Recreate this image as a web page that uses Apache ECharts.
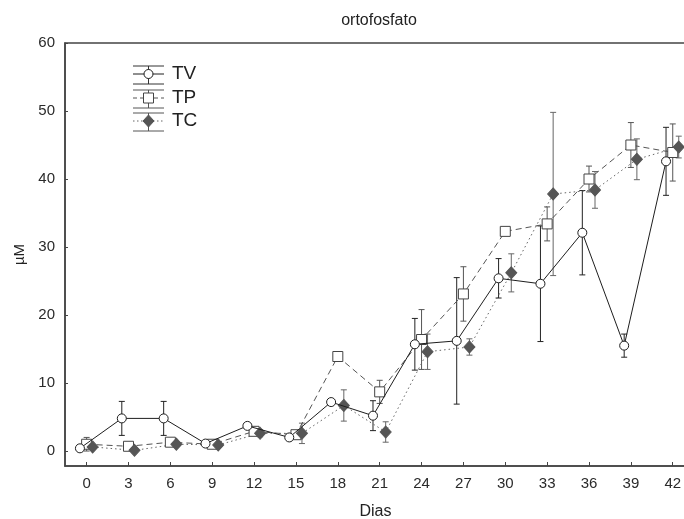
<!DOCTYPE html>
<html>
<head>
<meta charset="utf-8">
<script src="https://cdn.jsdelivr.net/npm/echarts@6/dist/echarts.min.js"></script>
<style>
  html, body { margin: 0; padding: 0; background: #fff; }
  #chart { width: 684px; height: 519px; }
</style>
</head>
<body>
<div id="chart"></div>
<script>
// Sampling days
const days = [0, 3, 6, 9, 12, 15, 18, 21, 24, 27, 30, 33, 36, 39, 42];
const dayTicks = [0, 3, 6, 9, 12, 15, 18, 21, 24, 27, 30, 33, 36, 39, 42];
const yTicks = [0, 10, 20, 30, 40, 50, 60];

// Orthophosphate (µM): mean and error for each treatment
const tvMean = [0.4, 4.8, 4.8, 1.1, 3.7, 2.0, 7.2, 5.2, 15.7, 16.2, 25.4, 24.6, 32.1, 15.5, 42.6];
const tvErr  = [0.4, 2.5, 2.5, 0.3, 0.4, 0.3, 0.3, 2.2, 3.8, 9.3, 2.9, 8.5, 6.2, 1.7, 5.0];

const tpMean = [1.0, 0.7, 1.3, 1.0, 2.9, 2.4, 13.9, 8.7, 16.4, 23.1, 32.3, 33.4, 40.0, 45.0, 43.9];
const tpErr  = [1.0, 0.3, 0.3, 0.3, 0.6, 0.4, 0.6, 1.7, 4.4, 4.0, 0.3, 2.5, 1.9, 3.3, 4.2];

const tcMean = [0.6, 0.1, 1.0, 0.9, 2.6, 2.6, 6.7, 2.8, 14.6, 15.3, 26.2, 37.8, 38.4, 42.9, 44.7];
const tcErr  = [0.3, 0.2, 0.3, 0.3, 0.5, 1.5, 2.3, 1.5, 2.6, 1.2, 2.8, 12.0, 2.7, 3.0, 1.6];

// Small horizontal dodge (in days) so the three treatments do not overlap
const dodge = { TV: -0.48, TP: 0, TC: 0.43 };

const FONT = '"Liberation Sans", Arial, sans-serif';

function points(mean, off) {
  return days.map((d, i) => [d + off, mean[i]]);
}
function bars(mean, err, off) {
  return days.map((d, i) => [d + off, mean[i] - err[i], mean[i] + err[i]]);
}

function errorBarSeries(name, data, color) {
  return {
    name: name + ' err',
    type: 'custom',
    z: 1,
    silent: true,
    data: data,
    encode: { x: 0, y: [1, 2] },
    renderItem: function (params, api) {
      const x = api.value(0);
      const lo = api.coord([x, api.value(1)]);
      const hi = api.coord([x, api.value(2)]);
      const hw = 3;
      const st = { stroke: color, lineWidth: 1 };
      return {
        type: 'group',
        children: [
          { type: 'line', shape: { x1: lo[0], y1: lo[1], x2: hi[0], y2: hi[1] }, style: st },
          { type: 'line', shape: { x1: lo[0] - hw, y1: lo[1], x2: lo[0] + hw, y2: lo[1] }, style: st },
          { type: 'line', shape: { x1: hi[0] - hw, y1: hi[1], x2: hi[0] + hw, y2: hi[1] }, style: st }
        ]
      };
    }
  };
}

// Legend glyphs: series line with marker, flanked by error-bar caps
function legendRow(y, label, lineType, lineColor, capColor, marker) {
  const x0 = 133, x1 = 164, cx = 148.5;
  const children = [
    { type: 'line', shape: { x1: x0, y1: y - 8, x2: x1, y2: y - 8 }, style: { stroke: capColor, lineWidth: 1 } },
    { type: 'line', shape: { x1: x0, y1: y + 10, x2: x1, y2: y + 10 }, style: { stroke: capColor, lineWidth: 1 } },
    { type: 'line', shape: { x1: cx, y1: y - 8, x2: cx, y2: y + 10 }, style: { stroke: capColor, lineWidth: 1 } },
    { type: 'line', shape: { x1: x0, y1: y, x2: x1, y2: y }, style: { stroke: lineColor, lineWidth: 1, lineDash: lineType } },
    marker,
    { type: 'text', x: 172, y: y, style: { text: label, font: '19px ' + FONT, fill: '#222', textVerticalAlign: 'middle' } }
  ];
  return { type: 'group', children: children };
}

const chart = echarts.init(document.getElementById('chart'), null, { renderer: 'canvas' });

const axisLineStyle = { color: '#444', width: 1.5 };

const option = {
  backgroundColor: '#fff',
  animation: false,
  title: {
    text: 'ortofosfato',
    left: 374, top: 8, textAlign: 'center',
    textStyle: { fontFamily: FONT, fontSize: 16, fontWeight: 'normal', color: '#222' }
  },
  grid: {
    left: 65, right: -2, top: 43, bottom: 53,
    outerBoundsMode: 'none',
    containLabel: false,
    show: true, borderColor: '#444', borderWidth: 1.5, backgroundColor: '#fff'
  },
  xAxis: {
    type: 'value',
    min: -1.55, max: 42.95,
    name: 'Dias', nameLocation: 'middle', nameGap: 38,
    nameTextStyle: { fontFamily: FONT, fontSize: 16, color: '#222' },
    axisLine: { show: true, onZero: false, lineStyle: axisLineStyle },
    axisTick: { show: true, inside: true, length: 4, customValues: dayTicks, lineStyle: { color: '#444' } },
    axisLabel: { customValues: dayTicks, margin: 10, fontFamily: FONT, fontSize: 15, color: '#2a2a2a' },
    splitLine: { show: false }
  },
  yAxis: {
    type: 'value',
    min: -2.2, max: 60,
    name: 'µM', nameLocation: 'middle', nameGap: 37, nameRotate: 90,
    nameTextStyle: { fontFamily: FONT, fontSize: 15, color: '#222' },
    axisLine: { show: true, onZero: false, lineStyle: axisLineStyle },
    axisTick: { show: true, inside: true, length: 3, customValues: yTicks, lineStyle: { color: '#444' } },
    axisLabel: { customValues: yTicks, margin: 10, fontFamily: FONT, fontSize: 15, color: '#2a2a2a' },
    splitLine: { show: false }
  },
  series: [
    errorBarSeries('TV', bars(tvMean, tvErr, dodge.TV), '#222'),
    errorBarSeries('TP', bars(tpMean, tpErr, dodge.TP), '#555'),
    errorBarSeries('TC', bars(tcMean, tcErr, dodge.TC), '#666'),
    {
      name: 'TP', type: 'line', z: 3,
      data: points(tpMean, dodge.TP),
      symbol: 'rect', symbolSize: 10,
      lineStyle: { color: '#555', width: 1, type: [6, 4] },
      itemStyle: { color: '#fff', borderColor: '#444', borderWidth: 1 }
    },
    {
      name: 'TC', type: 'line', z: 3,
      data: points(tcMean, dodge.TC),
      symbol: 'diamond', symbolSize: [11, 12],
      lineStyle: { color: '#666', width: 1, type: [1.5, 3] },
      itemStyle: { color: '#555', borderColor: '#555', borderWidth: 1 }
    },
    {
      name: 'TV', type: 'line', z: 4,
      data: points(tvMean, dodge.TV),
      symbol: 'circle', symbolSize: 9,
      lineStyle: { color: '#1e1e1e', width: 1 },
      itemStyle: { color: '#fff', borderColor: '#1e1e1e', borderWidth: 1 }
    }
  ],
  graphic: [
    legendRow(74, 'TV', null, '#1e1e1e', '#333',
      { type: 'circle', shape: { cx: 148.5, cy: 74, r: 4.5 }, style: { fill: '#fff', stroke: '#1e1e1e', lineWidth: 1 } }),
    legendRow(98, 'TP', [4, 3], '#555', '#555',
      { type: 'rect', shape: { x: 143.5, y: 93, width: 10, height: 10 }, style: { fill: '#fff', stroke: '#444', lineWidth: 1 } }),
    legendRow(121, 'TC', [1.5, 2.5], '#666', '#555',
      { type: 'polygon', shape: { points: [[148.5, 115], [154, 121], [148.5, 127], [143, 121]] }, style: { fill: '#555', stroke: '#555', lineWidth: 1 } })
  ]
};

chart.setOption(option);
</script>
</body>
</html>
